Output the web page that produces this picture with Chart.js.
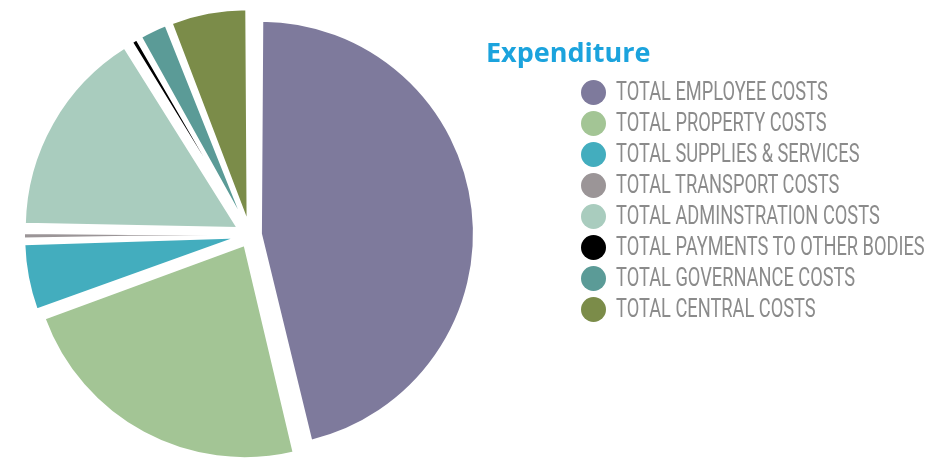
<!DOCTYPE html>
<html>
<head>
<meta charset="utf-8">
<script src="https://cdn.jsdelivr.net/npm/chart.js@4/dist/chart.umd.min.js"></script>
<style>
  html, body { margin: 0; padding: 0; background: #fff; }
  #wrap { position: relative; width: 948px; height: 461px; overflow: hidden; }
  #chart { position: absolute; left: 0; top: 0; }
  #title {
    position: absolute; left: 486px; top: 33px;
    font-family: "Open Sans", sans-serif; font-weight: 700; font-size: 27px;
    color: #1ba3dd; letter-spacing: 0px;
  }
  #legend { position: absolute; left: 580px; top: 80px; }
  .row { position: relative; height: 31px; }
  .dot {
    position: absolute; left: 1px; top: 0px; width: 25px; height: 25px; border-radius: 50%;
  }
  .txt {
    position: absolute; left: 36px; top: -3px; white-space: nowrap;
    font-family: Roboto, sans-serif; font-size: 25px;
    color: #8b8b8b; transform: scaleX(0.73); transform-origin: left center;
  }
</style>
</head>
<body>
<div id="wrap">
  <canvas id="chart" width="948" height="461"></canvas>
  <div id="title">Expenditure</div>
  <div id="legend"></div>
</div>
<script>
// categories and share of spend (percent)
const categories = [
  'TOTAL EMPLOYEE COSTS',
  'TOTAL PROPERTY COSTS',
  'TOTAL SUPPLIES & SERVICES',
  'TOTAL TRANSPORT COSTS',
  'TOTAL ADMINSTRATION COSTS',
  'TOTAL PAYMENTS TO OTHER BODIES',
  'TOTAL GOVERNANCE COSTS',
  'TOTAL CENTRAL COSTS'
];
const shares = [46.3, 23.1, 5.2, 0.7, 15.8, 0.7, 2.3, 5.9];

const colors = ['#7e7a9c', '#a3c595', '#43adbe', '#9b9597', '#a9ccbe', '#000000', '#5b9b97', '#7b8c49'];
// explode distance for each slice (chart.js moves a slice by offset/4)
const offsets = [44, 46, 52, 52, 56, 52, 52, 52];

// chart.js also grows an offset arc's radius by offset/4 * fix; pull it back so all slices share one radius
const keepRadius = {
  id: 'keepRadius',
  afterDatasetUpdate(chart, args) {
    args.meta.data.forEach((arc, i) => {
      const o = (offsets[i] || 0) / 4;
      const fix = 1 - Math.sin(Math.min(Math.PI, arc.circumference));
      arc.outerRadius = arc.outerRadius - o * fix;
    });
  }
};

const canvas = document.getElementById('chart');
new Chart(canvas.getContext('2d'), {
  type: 'pie',
  data: {
    labels: categories,
    datasets: [{
      data: shares,
      backgroundColor: colors,
      borderColor: '#ffffff',
      borderWidth: 2,
      offset: offsets
    }]
  },
  options: {
    responsive: false,
    devicePixelRatio: 1,
    animation: false,
    radius: 213,
    layout: { padding: { left: 0, right: 448, top: 9, bottom: 0 } },
    plugins: {
      legend: { display: false },
      tooltip: { enabled: false }
    }
  },
  plugins: [keepRadius]
});

// legend
const legend = document.getElementById('legend');
categories.forEach((name, i) => {
  const row = document.createElement('div');
  row.className = 'row';
  const dot = document.createElement('div');
  dot.className = 'dot';
  dot.style.background = colors[i];
  const txt = document.createElement('div');
  txt.className = 'txt';
  txt.textContent = name;
  row.appendChild(dot);
  row.appendChild(txt);
  legend.appendChild(row);
});
</script>
</body>
</html>
